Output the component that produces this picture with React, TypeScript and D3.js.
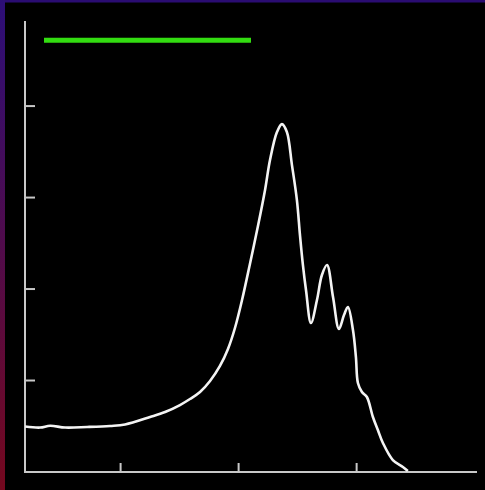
import React from "react";
import * as d3 from "d3";

const xValues = [19.1, 31.8, 40.3, 53.0, 71.6, 91.1, 103.8, 125.0, 137.7, 150.3, 158.8, 167.3, 175.8, 184.2, 191.0, 196.9, 202.9, 209.6, 216.4, 222.4, 226.6, 232.5, 236.7, 240.9, 245.2, 249.4, 252.0, 254.5, 257.1, 261.3, 266.4, 270.6, 274.9, 280.0, 285.0, 289.3, 292.6, 296.9, 299.4, 301.1, 304.5, 308.7, 313.8, 318.0, 322.3, 330.7, 339.2, 343.4];
const yValues = [0.497, 0.486, 0.505, 0.486, 0.492, 0.503, 0.519, 0.601, 0.656, 0.732, 0.798, 0.875, 0.995, 1.159, 1.345, 1.574, 1.88, 2.274, 2.689, 3.083, 3.41, 3.716, 3.803, 3.716, 3.355, 2.973, 2.59, 2.262, 1.989, 1.628, 1.88, 2.153, 2.262, 1.913, 1.563, 1.716, 1.803, 1.552, 1.257, 0.973, 0.874, 0.82, 0.601, 0.459, 0.317, 0.131, 0.055, 0.011];
const xTicks = [100, 200, 300];
const yTicks = [1, 2, 3, 4];
const xDomain = [19, 402];
const yDomain = [0, 4.93];
const legendX = [35.1, 210.5];
const legendY = 4.72;

export default function App() {
  const W = 485, H = 490;
  const x = d3.scaleLinear().domain(xDomain).range([25, 477]);
  const y = d3.scaleLinear().domain(yDomain).range([472, 21]);
  const data = xValues.map((v, i) => [v, yValues[i]] as [number, number]);
  const line = d3.line<[number, number]>().x(d => x(d[0])).y(d => y(d[1])).curve(d3.curveCatmullRom.alpha(0.5));
  const axisColor = "#c8c8c8";
  return (
    <svg width={W} height={H} style={{ position: "fixed", left: 0, top: 0, background: "#000" }}>
      <defs>
        <linearGradient id="edge" x1="0" y1="0" x2="0" y2="1">
          <stop offset="0" stopColor="#2c0e78" />
          <stop offset="1" stopColor="#74081e" />
        </linearGradient>
      </defs>
      <rect x={0} y={0} width={W} height={H} fill="#000" />
      <rect x={0} y={0} width={W} height={2.5} fill="#2a0c72" />
      <rect x={0} y={0} width={5} height={H} fill="url(#edge)" />
      <line x1={x(xDomain[0])} x2={x(xDomain[0])} y1={y(yDomain[1])} y2={y(0) + 1} stroke={axisColor} strokeWidth={2} />
      <line x1={x(xDomain[0]) - 1} x2={x(xDomain[1])} y1={y(0)} y2={y(0)} stroke={axisColor} strokeWidth={2} />
      {yTicks.map(t => (
        <line key={"y" + t} x1={x(xDomain[0])} x2={x(xDomain[0]) + 10} y1={y(t)} y2={y(t)} stroke={axisColor} strokeWidth={2} />
      ))}
      {xTicks.map(t => (
        <line key={"x" + t} x1={x(t)} x2={x(t)} y1={y(0)} y2={y(0) - 9} stroke={axisColor} strokeWidth={2} />
      ))}
      <line x1={x(legendX[0])} x2={x(legendX[1])} y1={y(legendY)} y2={y(legendY)} stroke="#33dd11" strokeWidth={5} />
      <path d={line(data) || ""} fill="none" stroke="#f4f4f4" strokeWidth={2.6} strokeLinejoin="round" />
    </svg>
  );
}
